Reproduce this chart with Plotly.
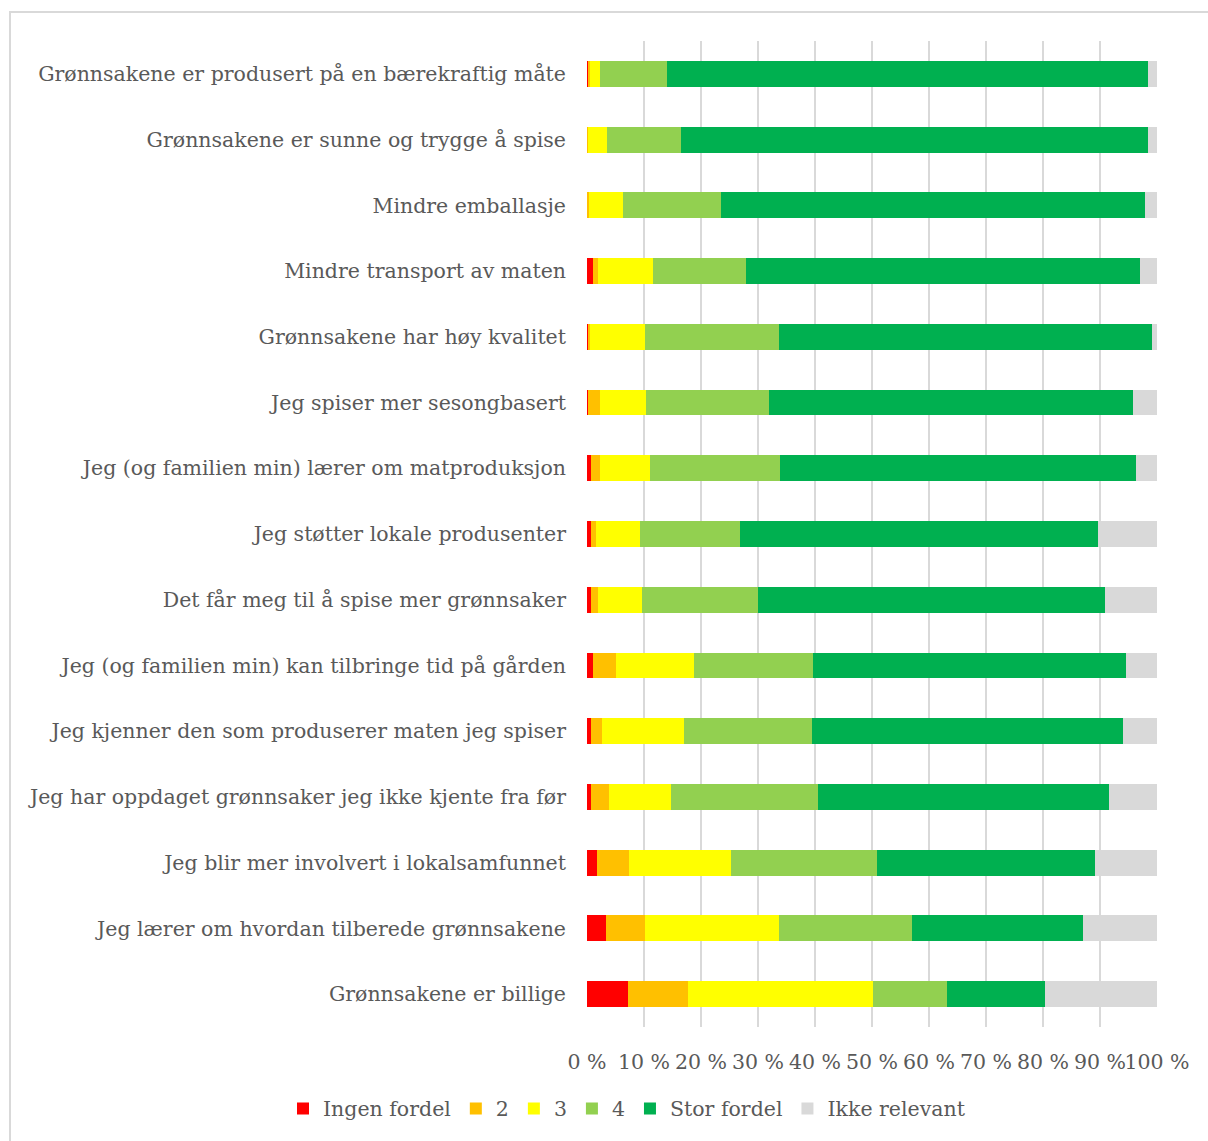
import plotly.graph_objects as go

# Statements rated by respondents, top to bottom
statements = [
    "Grønnsakene er produsert på en bærekraftig måte",
    "Grønnsakene er sunne og trygge å spise",
    "Mindre emballasje",
    "Mindre transport av maten",
    "Grønnsakene har høy kvalitet",
    "Jeg spiser mer sesongbasert",
    "Jeg (og familien min) lærer om matproduksjon",
    "Jeg støtter lokale produsenter",
    "Det får meg til å spise mer grønnsaker",
    "Jeg (og familien min) kan tilbringe tid på gården",
    "Jeg kjenner den som produserer maten jeg spiser",
    "Jeg har oppdaget grønnsaker jeg ikke kjente fra før",
    "Jeg blir mer involvert i lokalsamfunnet",
    "Jeg lærer om hvordan tilberede grønnsakene",
    "Grønnsakene er billige",
]

# Share of answers (%) per rating, same order as statements
ingen_fordel = [0.2, 0.0, 0.0, 1.1, 0.2, 0.1, 0.7, 0.7, 0.7, 1.1, 0.7, 0.7, 1.7, 3.3, 7.2]
rating_2 = [0.4, 0.1, 0.4, 0.9, 0.3, 2.2, 1.6, 0.8, 1.3, 4.0, 2.0, 3.1, 5.7, 6.9, 10.6]
rating_3 = [1.7, 3.4, 5.9, 9.6, 9.6, 8.1, 8.8, 7.8, 7.6, 13.6, 14.4, 10.9, 17.9, 23.4, 32.3]
rating_4 = [11.8, 13.0, 17.2, 16.3, 23.5, 21.6, 22.7, 17.6, 20.4, 20.9, 22.4, 25.9, 25.6, 23.5, 13.1]
stor_fordel = [84.4, 82.0, 74.4, 69.1, 65.5, 63.8, 62.6, 62.8, 60.9, 55.0, 54.5, 51.0, 38.3, 29.9, 17.2]
ikke_relevant = [1.5, 1.5, 2.1, 3.0, 0.9, 4.2, 3.6, 10.3, 9.1, 5.4, 6.0, 8.4, 10.8, 13.0, 19.6]

series_names = ["Ingen fordel", "2", "3", "4", "Stor fordel", "Ikke relevant"]
series_values = [ingen_fordel, rating_2, rating_3, rating_4, stor_fordel, ikke_relevant]
series_colors = ["#FF0000", "#FFC000", "#FFFF00", "#92D050", "#00B050", "#D9D9D9"]

x_ticks = [0, 10, 20, 30, 40, 50, 60, 70, 80, 90, 100]
x_tick_labels = [f"{v} %" for v in x_ticks]

FONT = "DejaVu Serif"
FONT_SIZE = 20.5
TEXT_COLOR = "#595959"

fig = go.Figure()
for name, vals, color in zip(series_names, series_values, series_colors):
    fig.add_trace(go.Bar(
        y=statements,
        x=vals,
        name=name,
        orientation="h",
        marker=dict(color=color, line=dict(width=0)),
        hovertemplate="%{y}<br>" + name + ": %{x:.1f} %<extra></extra>",
    ))

W, H = 1208, 1141
L, R, T, B = 587, 51, 41, 110
plot_w = W - L - R
plot_h = H - T - B


def px_to_paper_x(px):
    return (px - L) / plot_w


def px_to_paper_y(py):
    return (H - B - py) / plot_h


fig.update_layout(
    width=W,
    height=H,
    barmode="stack",
    bargap=0.606,
    plot_bgcolor="white",
    paper_bgcolor="white",
    margin=dict(l=L, r=R, t=T, b=B, pad=0),
    font=dict(family=FONT, color=TEXT_COLOR, size=FONT_SIZE),
    legend=dict(
        orientation="h",
        x=px_to_paper_x(283),
        y=px_to_paper_y(1113),
        xanchor="left",
        yanchor="middle",
        font=dict(family=FONT, size=FONT_SIZE, color=TEXT_COLOR),
        traceorder="normal",
        itemwidth=30,
        bgcolor="rgba(0,0,0,0)",
    ),
    xaxis=dict(
        range=[0, 100],
        tickvals=x_ticks,
        ticktext=x_tick_labels,
        tickangle=0,
        ticklabeloverflow="allow",
        showgrid=True,
        gridcolor="#D9D9D9",
        gridwidth=1.5,
        zeroline=False,
        showline=False,
        ticks="",
        ticklabelstandoff=20,
        tickfont=dict(family=FONT, size=FONT_SIZE, color=TEXT_COLOR),
        fixedrange=True,
    ),
    yaxis=dict(
        autorange="reversed",
        showgrid=False,
        showline=False,
        ticks="",
        ticklabelstandoff=20,
        tickfont=dict(family=FONT, size=FONT_SIZE, color=TEXT_COLOR),
        fixedrange=True,
    ),
    shapes=[
        # Chart frame
        dict(
            type="rect",
            xref="paper",
            yref="paper",
            x0=px_to_paper_x(10),
            x1=px_to_paper_x(W + 10),
            y0=px_to_paper_y(H + 10),
            y1=px_to_paper_y(12),
            line=dict(color="#D9D9D9", width=2),
            fillcolor="rgba(0,0,0,0)",
            layer="below",
        )
    ],
)

fig.write_html("out.html")
